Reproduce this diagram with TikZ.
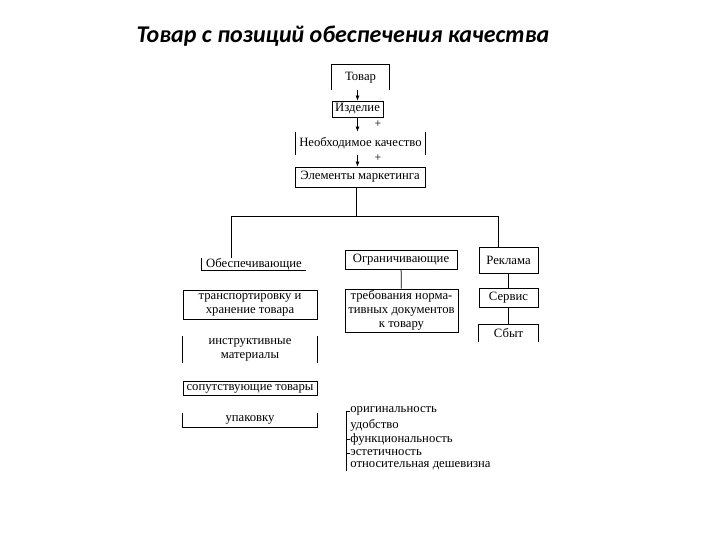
\documentclass[tikz,border=0pt]{standalone}
\usepackage{fontspec}
\setmainfont{Liberation Serif}
\newfontfamily\titlefont{Carlito}
\usetikzlibrary{arrows.meta,positioning,calc}
\tikzset{box/.style={draw,inner sep=0pt,align=center,font=\fontsize{12.7}{13.8}\selectfont},
  openbox/.style={inner sep=0pt,align=center,font=\fontsize{12.7}{13.8}\selectfont},
  item/.style={inner sep=0pt,anchor=west,font=\fontsize{12.7}{13.8}\selectfont},
  flow/.style={-{Latex[length=5pt,width=4pt]}}}

\begin{document}
\begin{tikzpicture}[x=1pt,y=-1pt,line width=0.75pt]
\useasboundingbox (0,0) rectangle (720,540);
\node[font=\titlefont\bfseries\itshape\fontsize{24}{27}\selectfont] (title) at (343,36) {Товар с позиций обеспечения качества};
% upper chain
\node[openbox,minimum width=57,minimum height=25] (tovar) at (360.5,77.5) {Товар};
\node[box,minimum width=51,minimum height=16] (izd) at (357.5,109) {Изделие};
\node[openbox,minimum width=129,minimum height=23] (neob) at (360.5,143.5) {Необходимое качество};
\node[box,minimum width=130,minimum height=20] (elem) at (360,177) {Элементы маркетинга};
\node[font=\fontsize{12}{13}\selectfont] (plus1) at (378,124) {+};
\node[font=\fontsize{12}{13}\selectfont] (plus2) at (378,158) {+};
\draw (tovar.south west) |- (tovar.north east) -- (tovar.south east);
\draw (neob.north west) -- (neob.south west);
\draw (neob.north east) -- (neob.south east);
\draw[flow] (tovar.south -| izd.north) -- (izd.north);
\draw[flow] (izd.south) -- (izd.south |- neob.north);
\draw[flow] (izd.south |- neob.south) -- (izd.south |- elem.north);
% second level
\node[openbox,minimum width=104,minimum height=12] (obesp) at (254,264) {Обеспечивающие};
\node[box,minimum width=112,minimum height=19] (ogr) at (401,259.5) {Ограничивающие};
\node[box,minimum width=59,minimum height=26] (rekl) at (508.5,260) {Реклама};
\draw (obesp.north west) |- (obesp.south east);
\coordinate (hub) at (356,216);
\coordinate (hubL) at (231,216);
\coordinate (hubR) at (498,216);
\draw (elem.south -| hub) -- (hub);
\draw (hubL |- obesp.north) -- (hubL) -- (hubR) -- (hubR |- rekl.north);
% left column
\node[box,minimum width=134,minimum height=29] (trans) at (250,304.5) {транспортировку и\\хранение товара};
\node[openbox,minimum width=134,minimum height=27] (instr) at (250,349.5) {инструктивные\\материалы};
\node[box,minimum width=134,minimum height=14] (sopt) at (250,388.5) {сопутствующие товары};
\node[openbox,minimum width=134,minimum height=14] (upak) at (250,420) {упаковку};
\draw (instr.north west) -- (instr.south west);
\draw (instr.north east) -- (instr.south east);
\draw (upak.north west) |- (upak.south east) -- (upak.north east);
% middle column
\node[box,minimum width=113,minimum height=43] (treb) at (401.5,310.5) {требования норма-\\тивных документов\\к товару};
\draw (ogr) -- (treb);
% right column
\node[box,minimum width=59,minimum height=19] (serv) at (508.5,298) {Сервис};
\node[openbox,minimum width=59,minimum height=17] (sbyt) at (508.5,333.5) {Сбыт};
\draw (sbyt.south west) |- (sbyt.north east) -- (sbyt.south east);
\draw (rekl) -- (serv);
\draw (serv) -- (sbyt);
% properties
\node[item] (q1) at (350,411) {оригинальность};
\node[item] (q2) at (350,425) {удобство};
\node[item] (q3) at (350,439) {функциональность};
\node[item] (q4) at (350,453) {эстетичность};
\node[item] (q5) at (350,466) {относительная дешевизна};
\coordinate (bar) at (346,0);
\draw (q1.west) -- (q1.west -| bar) -- (bar |- q5.south);
\draw (q3.west) -- (q3.west -| bar);
\draw (q4.west) -- (q4.west -| bar);
\end{tikzpicture}
\end{document}
